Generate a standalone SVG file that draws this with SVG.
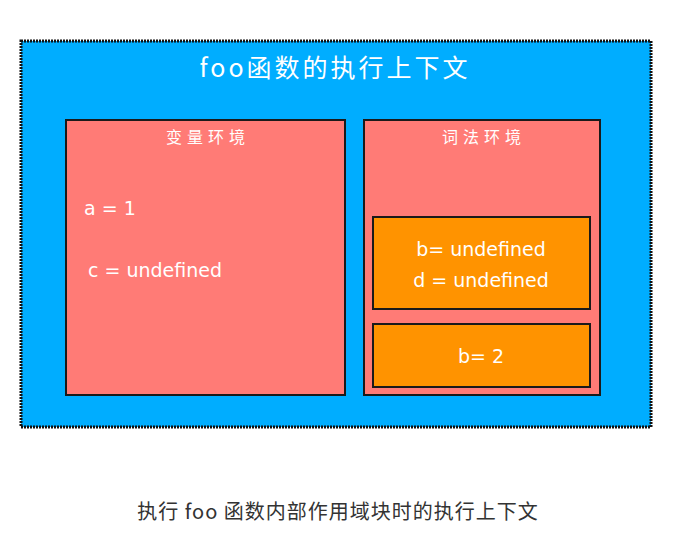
<svg xmlns="http://www.w3.org/2000/svg" width="700" height="541" viewBox="0 0 700 541">
<style>
.box{stroke:#1a1a1a;stroke-width:2}
.w{fill:#fff;font-family:"DejaVu Sans","Noto Sans CJK SC",sans-serif}
.cj{fill:#fff;font-family:"Noto Sans CJK SC",sans-serif}
</style>
<rect width="700" height="541" fill="#fff"/>
<g id="ctx">
<rect x="21" y="41" width="630" height="386" fill="#00adff" stroke="#111" stroke-width="3" stroke-dasharray="2 1"/>
<text class="cj" x="335" y="77" font-size="25" text-anchor="middle" letter-spacing="3">foo函数的执行上下文</text>
</g>
<g id="varenv">
<rect class="box" x="66" y="120" width="279" height="275" fill="#ff7b76"/>
<text class="cj" x="208" y="143" font-size="16" text-anchor="middle" letter-spacing="5">变量环境</text>
<text class="w" x="84" y="215" font-size="19">a = 1</text>
<text class="w" x="88" y="277" font-size="19">c = undefined</text>
</g>
<g id="lexenv">
<rect class="box" x="364" y="120" width="236" height="275" fill="#ff7b76"/>
<text class="cj" x="484" y="143" font-size="16" text-anchor="middle" letter-spacing="5">词法环境</text>
</g>
<g id="block1">
<rect class="box" x="373" y="217" width="217" height="92" fill="#ff9300"/>
<text class="w" x="481" y="256" font-size="19" text-anchor="middle">b= undefined</text>
<text class="w" x="481" y="287" font-size="19" text-anchor="middle">d = undefined</text>
</g>
<g id="block2">
<rect class="box" x="373" y="324" width="217" height="63" fill="#ff9300"/>
<text class="w" x="481" y="363" font-size="19" text-anchor="middle">b= 2</text>
</g>
<g id="connectors"></g>
<text x="338" y="519" font-size="20" fill="#333" text-anchor="middle" letter-spacing="1" font-family="Noto Sans CJK SC,sans-serif">执行 foo 函数内部作用域块时的执行上下文</text>
</svg>
